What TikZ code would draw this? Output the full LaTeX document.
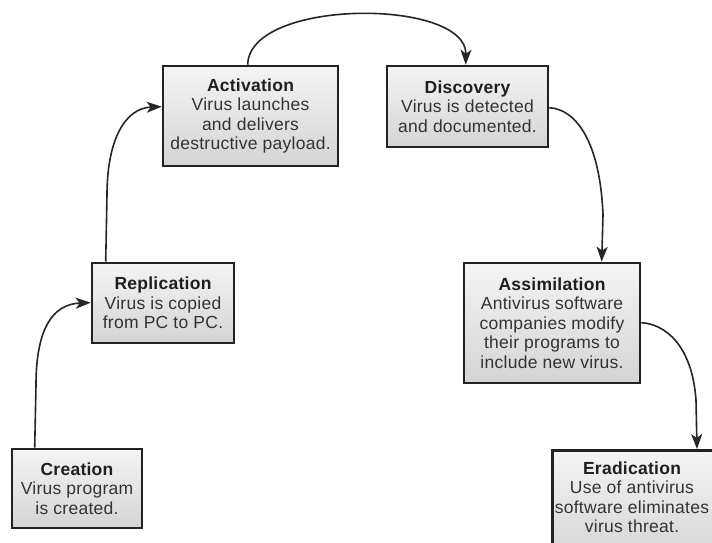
\documentclass[tikz,border=0pt]{standalone}
\usepackage{fontspec}
\setmainfont{Liberation Sans}[LetterSpace=1.5]
\usetikzlibrary{arrows.meta,calc}
\definecolor{boxborder}{HTML}{222222}
\definecolor{boxtop}{HTML}{F4F4F4}
\definecolor{boxbot}{HTML}{D4D4D4}
\definecolor{txtgray}{HTML}{333333}
\definecolor{linegray}{HTML}{262626}
\tikzset{
  box/.style={draw=boxborder, line width=2.6pt, top color=boxtop, bottom color=boxbot,
    align=center, inner sep=0pt, text=txtgray, font=\fontsize{17.5}{19.5}\selectfont},
  txt/.style={align=center, inner sep=0pt, text=txtgray, font=\fontsize{17.5}{19.5}\selectfont},
  arr/.style={draw=linegray, line width=1.6pt, -{Stealth[length=15pt,width=11pt,inset=4pt]}}
}
\newcommand{\hdr}[1]{{\bfseries\color{black!88}#1}}
\begin{document}
\begin{tikzpicture}[x=1pt,y=-1pt]
\useasboundingbox (0,0) rectangle (712,542);
\clip (0,0) rectangle (712,542);
\fill[white] (0,0) rectangle (712,542);

\node[box, minimum width=130pt, minimum height=79pt] (creation) at (77,488.5)
  {\hdr{Creation}\\Virus program\\is created.};
\node[box, minimum width=142pt, minimum height=80pt] (replication) at (163,303)
  {\hdr{Replication}\\Virus is copied\\from PC to PC.};
\node[box, minimum width=175pt, minimum height=100pt] (activation) at (250.5,116)
  {\hdr{Activation}\\Virus launches\\and delivers\\destructive payload.};
\node[box, minimum width=161pt, minimum height=81pt] (discovery) at (467.5,106.5)
  {\hdr{Discovery}\\Virus is detected\\and documented.};
\node[box, minimum width=176pt, minimum height=120pt] (assimilation) at (552,323)
  {\hdr{Assimilation}\\Antivirus software\\companies modify\\their programs to\\include new virus.};
\node[box, minimum width=180pt, minimum height=110pt, anchor=north west] (erad) at (551,449) {};
\node[txt] (eradtext) at (632,497)
  {\hdr{Eradication}\\Use of antivirus\\software eliminates\\virus threat.};

\coordinate (cTop) at ($(creation.north west)+(24,0)$);
\coordinate (rTop) at ($(replication.north west)+(15,0)$);
\coordinate (rIn) at ($(replication.north west)+(0,41)$);
\coordinate (aIn) at ($(activation.north west)+(0,42)$);
\coordinate (aTop) at ($(activation.north west)+(86,0)$);
\coordinate (dTop) at ($(discovery.north west)+(80,0)$);
\coordinate (dRight) at ($(discovery.north east)+(0,43)$);
\coordinate (asTop) at ($(assimilation.north west)+(139,0)$);
\coordinate (asRight) at ($(assimilation.north east)+(0,61)$);
\coordinate (eTop) at ($(erad.north west)+(146,0)$);

\draw[arr] (cTop) -- (36,385) .. controls (36,330) and (52,304) .. (rIn);
\draw[arr] (rTop) -- (107,195) .. controls (107,140) and (125,108) .. (aIn);
\draw[arr] (aTop) .. controls (249,-2) and (467,-2) .. (dTop);
\draw[arr] (dRight) .. controls (575,109) and (600,140) .. (603,215) -- (asTop);
\draw[arr] (asRight) .. controls (665,324) and (692,345) .. (696,400) -- (eTop);
\end{tikzpicture}
\end{document}
